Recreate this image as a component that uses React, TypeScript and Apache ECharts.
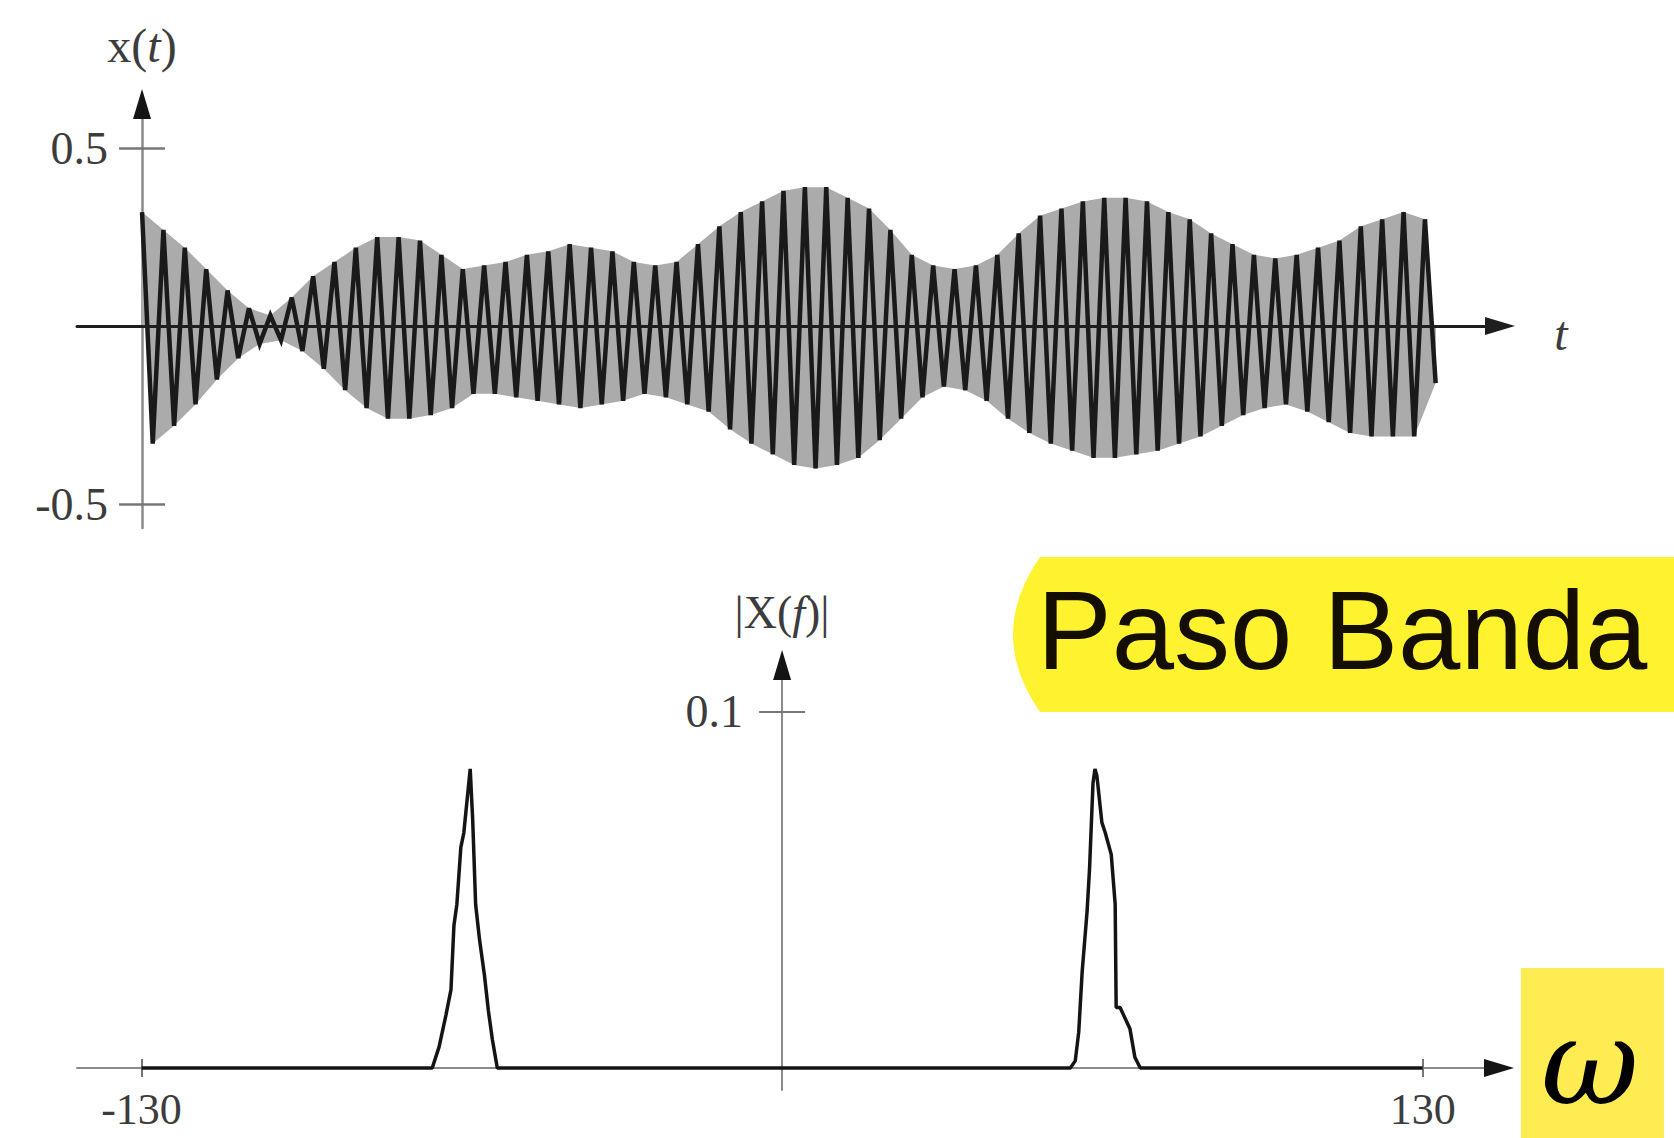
import React, { useEffect, useRef } from "react";
import * as echarts from "echarts";

// x(t): positive peak and negative trough of each oscillation cycle, in order
const cyclePeaks = [
  0.32, 0.27, 0.22, 0.16, 0.10, 0.05, 0.03, 0.08, 0.14, 0.18,
  0.22, 0.25, 0.25, 0.24, 0.20, 0.16, 0.17, 0.18, 0.20, 0.21,
  0.23, 0.22, 0.21, 0.18, 0.17, 0.18, 0.23, 0.28, 0.32, 0.35,
  0.38, 0.39, 0.39, 0.36, 0.33, 0.27, 0.20, 0.17, 0.16, 0.17,
  0.20, 0.26, 0.31, 0.33, 0.35, 0.36, 0.36, 0.35, 0.32, 0.30,
  0.26, 0.23, 0.20, 0.19, 0.20, 0.22, 0.24, 0.28, 0.30, 0.32,
  0.30,
];
const cycleTroughs = [
  -0.33, -0.28, -0.22, -0.15, -0.09, -0.05, -0.04, -0.07, -0.12, -0.18,
  -0.23, -0.26, -0.26, -0.25, -0.23, -0.19, -0.19, -0.20, -0.21, -0.22,
  -0.23, -0.22, -0.21, -0.19, -0.20, -0.22, -0.24, -0.29, -0.33, -0.36,
  -0.39, -0.40, -0.39, -0.37, -0.32, -0.26, -0.20, -0.17, -0.18, -0.21,
  -0.26, -0.30, -0.33, -0.35, -0.37, -0.37, -0.36, -0.35, -0.33, -0.31,
  -0.28, -0.25, -0.23, -0.22, -0.24, -0.27, -0.30, -0.31, -0.31, -0.31,
  -0.16,
];

// |X(f)|: magnitude spectrum samples
const spectrumFreqs = [
  -130,
  -71.0, -69.6, -68.2, -67.2, -66.6, -66.0, -65.2, -64.6, -63.3, -62.8,
  -62.2, -61.4, -60.4, -59.6, -58.8, -57.8,
  58.5, 59.5, 60.2, 60.9, 61.9, 62.4, 63.1, 63.5, 63.9, 64.9,
  65.6, 66.8, 67.6, 67.8, 68.6, 70.6, 71.6, 72.7,
  130,
];
const spectrumMags = [
  0,
  0, 0.006, 0.015, 0.022, 0.040, 0.046, 0.062, 0.066, 0.084, 0.070,
  0.046, 0.036, 0.026, 0.016, 0.008, 0,
  0, 0.002, 0.010, 0.027, 0.044, 0.056, 0.080, 0.084, 0.082, 0.069,
  0.066, 0.060, 0.046, 0.017, 0.017, 0.011, 0.003, 0,
  0,
];

// Tick positions
const amplitudeTicks = [-0.5, 0.5];
const magnitudeTicks = [0.1];
const freqTicks = [-130, 130];

// Axis ranges
const T_RANGE = [-0.0507, 1.0585];
const AMP_RANGE = [-0.567, 0.6236];
const F_RANGE = [-143.1, 145.5];
const MAG_RANGE = [-0.00618, 0.1132];

const SERIF = "'Liberation Serif', 'DejaVu Serif', serif";
const LABEL_GREY = "#3c3c3c";
const AXIS_GREY = "#8a8a8a";
const TICK_GREY = "#777777";
const FILL_GREY = "#ababab";

// Grid boxes (pixels)
const TOP_GRID = { left: 77, right: 174, top: 104, bottom: 610 };
const BOTTOM_GRID = { left: 77, right: 175, top: 665, bottom: 48 };
const PAGE_W = 1674;
const PAGE_H = 1138;

// Pixel position of zero inside a span, used to slide an axis onto the other axis' origin
const zeroAt = (range: number[], start: number, end: number) =>
  start + ((0 - range[0]) / (range[1] - range[0])) * (end - start);

const topLeftX = TOP_GRID.left;
const topRightX = PAGE_W - TOP_GRID.right;
const topZeroX = zeroAt(T_RANGE, topLeftX, topRightX);

const botLeftX = BOTTOM_GRID.left;
const botRightX = PAGE_W - BOTTOM_GRID.right;
const botZeroX = zeroAt(F_RANGE, botLeftX, botRightX);
const botTopY = BOTTOM_GRID.top;
const botBottomY = PAGE_H - BOTTOM_GRID.bottom;
const botZeroY = botBottomY - ((0 - MAG_RANGE[0]) / (MAG_RANGE[1] - MAG_RANGE[0])) * (botBottomY - botTopY);

// Badge with a bowed left edge behind the "Paso Banda" caption
echarts.graphic.registerShape(
  "pasoBandaBadge",
  echarts.graphic.extendPath("M27 0 L661 0 L661 155 L27 155 Q-27 77.5 27 0 Z", {})
);

// one peak then one trough per cycle, cycles evenly spaced over 0..1
const lastCycle = cyclePeaks.length - 1;
const peakTimes = cyclePeaks.map((_, i) => i / lastCycle);
const troughTimes = cycleTroughs.map((_, i) => (i + 0.5) / lastCycle);
const signalData: [number, number][] = [];
cyclePeaks.forEach((p, i) => {
  signalData.push([peakTimes[i], p]);
  signalData.push([troughTimes[i], cycleTroughs[i]]);
});
const upperEnvelope = cyclePeaks.map((p, i) => [peakTimes[i], p]);
const lowerEnvelope = cycleTroughs.map((q, i) => [troughTimes[i], q]);
const spectrumData = spectrumFreqs.map((f, i) => [f, spectrumMags[i]]);

const tickLabel = {
  fontFamily: SERIF,
  fontSize: 46,
  lineHeight: 40,
  color: LABEL_GREY,
};

const arrowLine = {
  show: true,
  onZero: false,
  symbol: ["none", "triangle"],
  symbolSize: [18, 30],
  lineStyle: { color: "#141414", width: 0 },
};

const envelopeStyle = {
  type: "line",
  xAxisIndex: 0,
  yAxisIndex: 0,
  showSymbol: false,
  silent: true,
  lineStyle: { width: 0 },
  areaStyle: { color: FILL_GREY, opacity: 1 },
  z: 2,
};

const option: any = {
  animation: false,
  backgroundColor: "#ffffff",
  grid: [
    { ...TOP_GRID, containLabel: false, outerBoundsMode: "none" },
    { ...BOTTOM_GRID, containLabel: false, outerBoundsMode: "none" },
  ],
  xAxis: [
    {
      gridIndex: 0,
      type: "value",
      min: T_RANGE[0],
      max: T_RANGE[1],
      axisLine: {
        onZero: true,
        onZeroAxisIndex: 0,
        symbol: ["none", "triangle"],
        symbolSize: [18, 30],
        lineStyle: { color: "#1e1e1e", width: 3 },
      },
      axisTick: { show: false },
      axisLabel: { show: false },
      splitLine: { show: false },
      z: 5,
    },
    {
      gridIndex: 1,
      type: "value",
      position: "bottom",
      offset: -(botBottomY - botZeroY),
      min: F_RANGE[0],
      max: F_RANGE[1],
      axisLine: { onZero: false, lineStyle: { color: AXIS_GREY, width: 2 } },
      axisTick: {
        show: true,
        customValues: freqTicks,
        length: 9,
        lineStyle: { color: TICK_GREY, width: 2 },
      },
      axisLabel: { show: true, customValues: freqTicks, margin: 22, ...tickLabel, fontSize: 44 },
      splitLine: { show: false },
    },
    {
      gridIndex: 1,
      type: "value",
      position: "top",
      offset: -(botZeroY - botTopY),
      min: F_RANGE[0],
      max: F_RANGE[1],
      axisLine: arrowLine,
      axisTick: {
        show: true,
        customValues: freqTicks,
        length: 9,
        lineStyle: { color: TICK_GREY, width: 2 },
      },
      axisLabel: { show: false },
      splitLine: { show: false },
    },
  ],
  yAxis: [
    {
      gridIndex: 0,
      type: "value",
      position: "left",
      offset: -(topZeroX - topLeftX),
      min: AMP_RANGE[0],
      max: AMP_RANGE[1],
      axisLine: { onZero: false, lineStyle: { color: AXIS_GREY, width: 2.5 } },
      axisTick: {
        show: true,
        customValues: amplitudeTicks,
        length: 23,
        lineStyle: { color: TICK_GREY, width: 2.5 },
      },
      axisLabel: { show: true, customValues: amplitudeTicks, margin: 34, ...tickLabel },
      splitLine: { show: false },
    },
    {
      gridIndex: 0,
      type: "value",
      position: "right",
      offset: -(topRightX - topZeroX),
      min: AMP_RANGE[0],
      max: AMP_RANGE[1],
      axisLine: arrowLine,
      axisTick: {
        show: true,
        customValues: amplitudeTicks,
        length: 23,
        lineStyle: { color: TICK_GREY, width: 2.5 },
      },
      axisLabel: { show: false },
      splitLine: { show: false },
    },
    {
      gridIndex: 1,
      type: "value",
      position: "left",
      offset: -(botZeroX - botLeftX),
      min: MAG_RANGE[0],
      max: MAG_RANGE[1],
      axisLine: { onZero: false, lineStyle: { color: AXIS_GREY, width: 2 } },
      axisTick: {
        show: true,
        customValues: magnitudeTicks,
        length: 23,
        lineStyle: { color: TICK_GREY, width: 2 },
      },
      axisLabel: { show: true, customValues: magnitudeTicks, margin: 39, ...tickLabel },
      splitLine: { show: false },
    },
    {
      gridIndex: 1,
      type: "value",
      position: "right",
      offset: -(botRightX - botZeroX),
      min: MAG_RANGE[0],
      max: MAG_RANGE[1],
      axisLine: arrowLine,
      axisTick: {
        show: true,
        customValues: magnitudeTicks,
        length: 23,
        lineStyle: { color: TICK_GREY, width: 2 },
      },
      axisLabel: { show: false },
      splitLine: { show: false },
    },
  ],
  series: [
    { ...envelopeStyle, name: "upper envelope", data: upperEnvelope },
    { ...envelopeStyle, name: "lower envelope", data: lowerEnvelope },
    {
      name: "x(t)",
      type: "line",
      xAxisIndex: 0,
      yAxisIndex: 0,
      data: signalData,
      showSymbol: false,
      silent: true,
      lineStyle: { color: "#1a1a1a", width: 4.5, join: "miter" },
      areaStyle: { color: FILL_GREY, opacity: 1 },
      z: 3,
    },
    {
      name: "|X(f)|",
      type: "line",
      xAxisIndex: 1,
      yAxisIndex: 2,
      data: spectrumData,
      showSymbol: false,
      silent: true,
      lineStyle: { color: "#141414", width: 3.5 },
      z: 3,
    },
  ],
  graphic: [
    {
      type: "text",
      x: 142,
      y: 45,
      style: {
        text: "{r|x(}{i|t}{r|)}",
        rich: {
          r: { fontFamily: SERIF, fontSize: 48, fill: LABEL_GREY },
          i: { fontFamily: SERIF, fontSize: 48, fontStyle: "italic", fill: LABEL_GREY },
        },
        align: "center",
        verticalAlign: "middle",
      },
    },
    {
      type: "text",
      x: 1561,
      y: 333,
      style: {
        text: "t",
        fontFamily: SERIF,
        fontSize: 48,
        fontStyle: "italic",
        fill: LABEL_GREY,
        align: "center",
        verticalAlign: "middle",
      },
    },
    {
      type: "text",
      x: 782,
      y: 612,
      style: {
        text: "{r||X(}{i|f}{r|)|}",
        rich: {
          r: { fontFamily: SERIF, fontSize: 46, fill: LABEL_GREY },
          i: { fontFamily: SERIF, fontSize: 46, fontStyle: "italic", fill: LABEL_GREY },
        },
        align: "center",
        verticalAlign: "middle",
      },
    },
    {
      type: "pasoBandaBadge",
      x: 1013,
      y: 557,
      style: { fill: "#fff22e" },
    },
    {
      type: "text",
      x: 1037,
      y: 630,
      style: {
        text: "Paso Banda",
        fontFamily: "'Liberation Sans', Arial, sans-serif",
        fontSize: 112,
        fill: "#140e00",
        align: "left",
        verticalAlign: "middle",
      },
    },
    {
      type: "rect",
      shape: { x: 1521, y: 968, width: 143, height: 172 },
      style: { fill: "#ffec52" },
    },
    {
      type: "text",
      x: 1590,
      y: 1062,
      style: {
        text: "ω",
        fontFamily: "'DejaVu Serif', serif",
        fontSize: 120,
        fontStyle: "italic",
        fill: "#000000",
        align: "center",
        verticalAlign: "middle",
      },
    },
  ],
};

export default function App() {
  const ref = useRef<HTMLDivElement>(null);
  useEffect(() => {
    if (!ref.current) return;
    const chart = echarts.init(ref.current, null, { renderer: "svg" });
    chart.setOption(option);
    return () => chart.dispose();
  }, []);
  return (
    <div
      ref={ref}
      style={{ position: "fixed", left: 0, top: 0, width: PAGE_W, height: PAGE_H, background: "#fff" }}
    />
  );
}
